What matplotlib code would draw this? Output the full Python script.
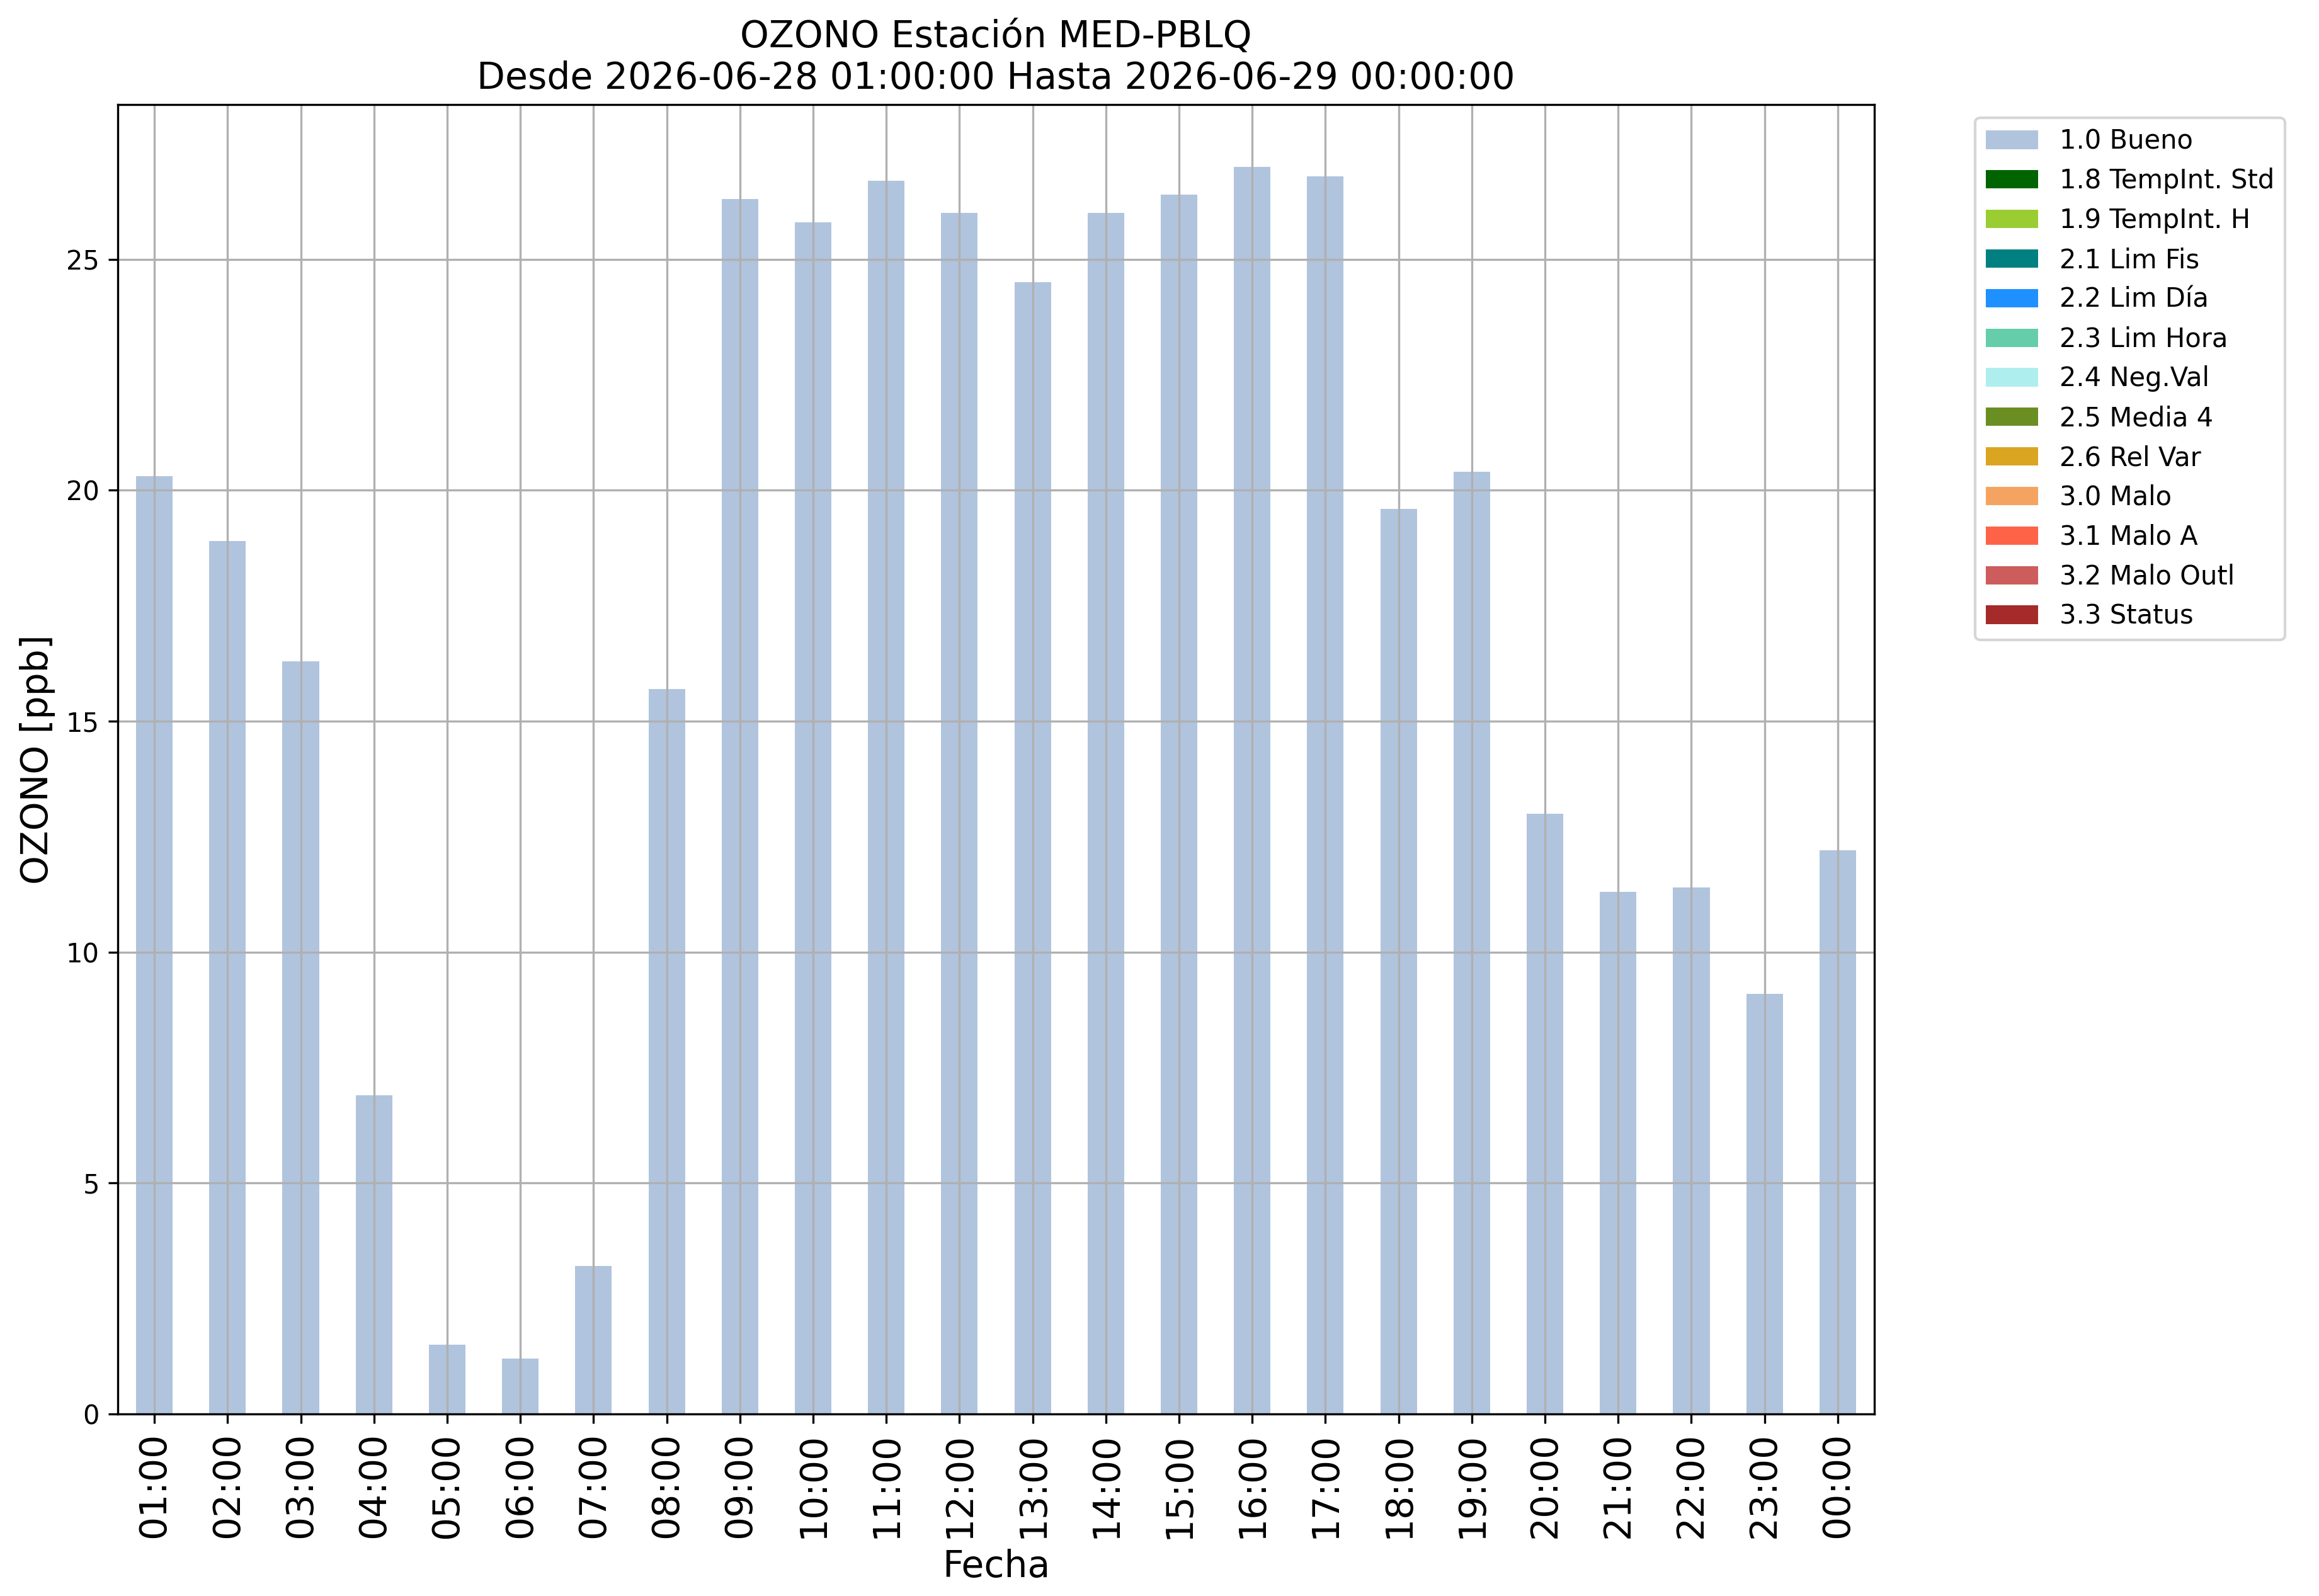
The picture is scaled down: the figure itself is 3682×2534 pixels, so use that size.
import matplotlib
matplotlib.use('Agg')
import matplotlib.pyplot as plt
import pandas as pd

# hourly ozone values, all flagged 1.0 Bueno
horas = ['01:00', '02:00', '03:00', '04:00', '05:00', '06:00', '07:00', '08:00',
         '09:00', '10:00', '11:00', '12:00', '13:00', '14:00', '15:00', '16:00',
         '17:00', '18:00', '19:00', '20:00', '21:00', '22:00', '23:00', '00:00']
bueno = [20.3, 18.9, 16.3, 6.9, 1.5, 1.2, 3.2, 15.7,
         26.3, 25.8, 26.7, 26.0, 24.5, 26.0, 26.4, 27.0,
         26.8, 19.6, 20.4, 13.0, 11.3, 11.4, 9.1, 12.2]

# validation flags and their colours
flags = ['1.0 Bueno', '1.8 TempInt. Std', '1.9 TempInt. H', '2.1 Lim Fis',
         '2.2 Lim Día', '2.3 Lim Hora', '2.4 Neg.Val', '2.5 Media 4',
         '2.6 Rel Var', '3.0 Malo', '3.1 Malo A', '3.2 Malo Outl', '3.3 Status']
colores = ['lightsteelblue', 'darkgreen', 'yellowgreen', 'teal',
           'dodgerblue', 'mediumaquamarine', 'paleturquoise', 'olivedrab',
           'goldenrod', 'sandybrown', 'tomato', 'indianred', 'brown']

df = pd.DataFrame({f: [0.0] * len(horas) for f in flags}, index=horas)
df['1.0 Bueno'] = bueno

fig = plt.figure(figsize=(3682 / 300, 2534 / 300), dpi=300)
ax = fig.add_axes([187 / 3682, 1 - 2245 / 2534, (2976 - 187) / 3682, (2245 - 166) / 2534])

df.plot(kind='bar', stacked=True, width=0.5, color=colores, ax=ax)

ax.grid(True)
ax.tick_params(axis='x', labelsize=14, labelrotation=90)
ax.tick_params(axis='y', labelsize=10)
ax.set_xlabel('Fecha', fontsize=14)
ax.set_ylabel('OZONO [ppb]', fontsize=14)
ax.set_title('OZONO Estación MED-PBLQ\nDesde 2026-06-28 01:00:00 Hasta 2026-06-29 00:00:00',
             fontsize=14)
ax.legend(bbox_to_anchor=(1.05, 1), loc='upper left', fontsize=10)

fig.savefig('out.png', dpi=300)
